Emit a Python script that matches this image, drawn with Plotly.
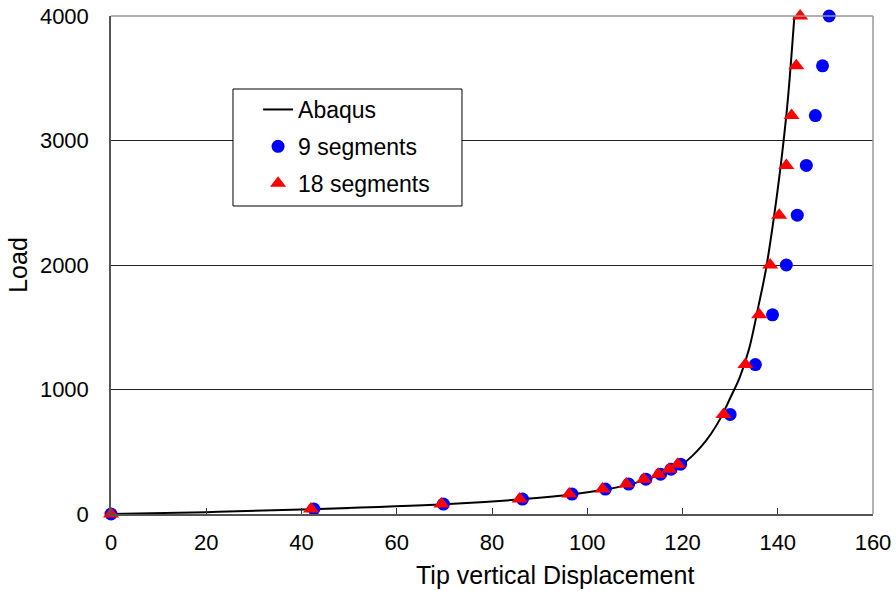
import plotly.graph_objects as go

# Abaqus reference curve
abaqus_x = [0, 20, 42, 70, 86, 97, 104, 109, 112.5, 115.5, 118, 120, 122, 124, 126, 128, 130, 132, 134, 136, 137.5, 139, 140.5, 142, 143.5]
abaqus_y = [0, 15, 38, 78, 118, 158, 198, 238, 278, 318, 358, 400, 465, 545, 645, 770, 930, 1095, 1330, 1680, 1960, 2330, 2760, 3280, 4000]

loads = [0, 40, 80, 120, 160, 200, 240, 280, 320, 360, 400, 800, 1200, 1600, 2000, 2400, 2800, 3200, 3600, 4000]
seg9_x = [0, 42.6, 69.8, 86.4, 96.8, 103.8, 108.7, 112.3, 115.4, 117.6, 119.6, 130.0, 135.3, 138.9, 141.8, 144.1, 146.0, 147.9, 149.4, 150.8]
seg18_x = [0, 42.0, 69.4, 85.8, 96.2, 103.2, 108.2, 111.9, 114.9, 117.2, 119.0, 128.6, 133.2, 136.1, 138.4, 140.3, 141.8, 142.9, 143.9, 144.7]

x_ticks = [0, 20, 40, 60, 80, 100, 120, 140, 160]
y_ticks = [0, 1000, 2000, 3000, 4000]

font_family = "Liberation Sans, Arial, sans-serif"

fig = go.Figure()
fig.add_trace(go.Scatter(x=abaqus_x, y=abaqus_y, mode="lines", name="Abaqus", legendgroup="a",
                         line=dict(color="black", width=2, shape="spline", smoothing=1.0),
                         cliponaxis=False))
fig.add_trace(go.Scatter(x=seg9_x, y=loads, mode="markers", name="9 segments", legendgroup="b",
                         marker=dict(color="#0000FF", size=13, symbol="circle"),
                         cliponaxis=False))
fig.add_trace(go.Scatter(x=seg18_x, y=loads, mode="markers", name="18 segments", legendgroup="c",
                         marker=dict(color="#FF0000", size=14, symbol="triangle-up"),
                         cliponaxis=False))

# legend box, top and right frame lines
fig.add_shape(type="rect", xref="paper", yref="paper", x0=0.1601, x1=0.4606, y0=0.6185, y1=0.8534,
              fillcolor="white", line=dict(color="black", width=1), layer="above")
fig.add_shape(type="line", xref="paper", yref="paper", x0=0, x1=1, y0=1, y1=1,
              line=dict(color="#999999", width=1.5), layer="above")
fig.add_shape(type="line", xref="paper", yref="paper", x0=1, x1=1, y0=0, y1=1,
              line=dict(color="#999999", width=1.5), layer="above")

fig.add_annotation(text="Tip vertical Displacement", xref="paper", yref="paper",
                   x=0.583, y=-0.1225, xanchor="center", yanchor="middle",
                   showarrow=False, font=dict(size=25, color="black"))

fig.update_layout(
    width=896, height=591,
    margin=dict(l=111, r=23, t=16, b=77, autoexpand=False),
    paper_bgcolor="white", plot_bgcolor="white",
    font=dict(family=font_family, size=22, color="black"),
    showlegend=True,
    legend=dict(x=0.193, y=0.8554, xanchor="left", yanchor="top",
                bgcolor="rgba(0,0,0,0)", borderwidth=0,
                font=dict(size=23), itemwidth=30, tracegroupgap=4),
    xaxis=dict(range=[0, 160], tickvals=x_ticks, ticks="inside", ticklen=6,
               tickcolor="#333", showgrid=False, zeroline=False,
               showline=True, linecolor="#555", linewidth=1.5, mirror=False,
               ticklabelstandoff=8, tickfont=dict(size=22)),
    yaxis=dict(range=[0, 4000], tickvals=y_ticks, ticks="", showgrid=True,
               gridcolor="#222", gridwidth=1, zeroline=False,
               showline=True, linecolor="#555", linewidth=1.5, mirror=False,
               ticklabelstandoff=16,
               title=dict(text="Load", font=dict(size=25), standoff=5),
               tickfont=dict(size=22)),
)

fig.write_html("out.html")
